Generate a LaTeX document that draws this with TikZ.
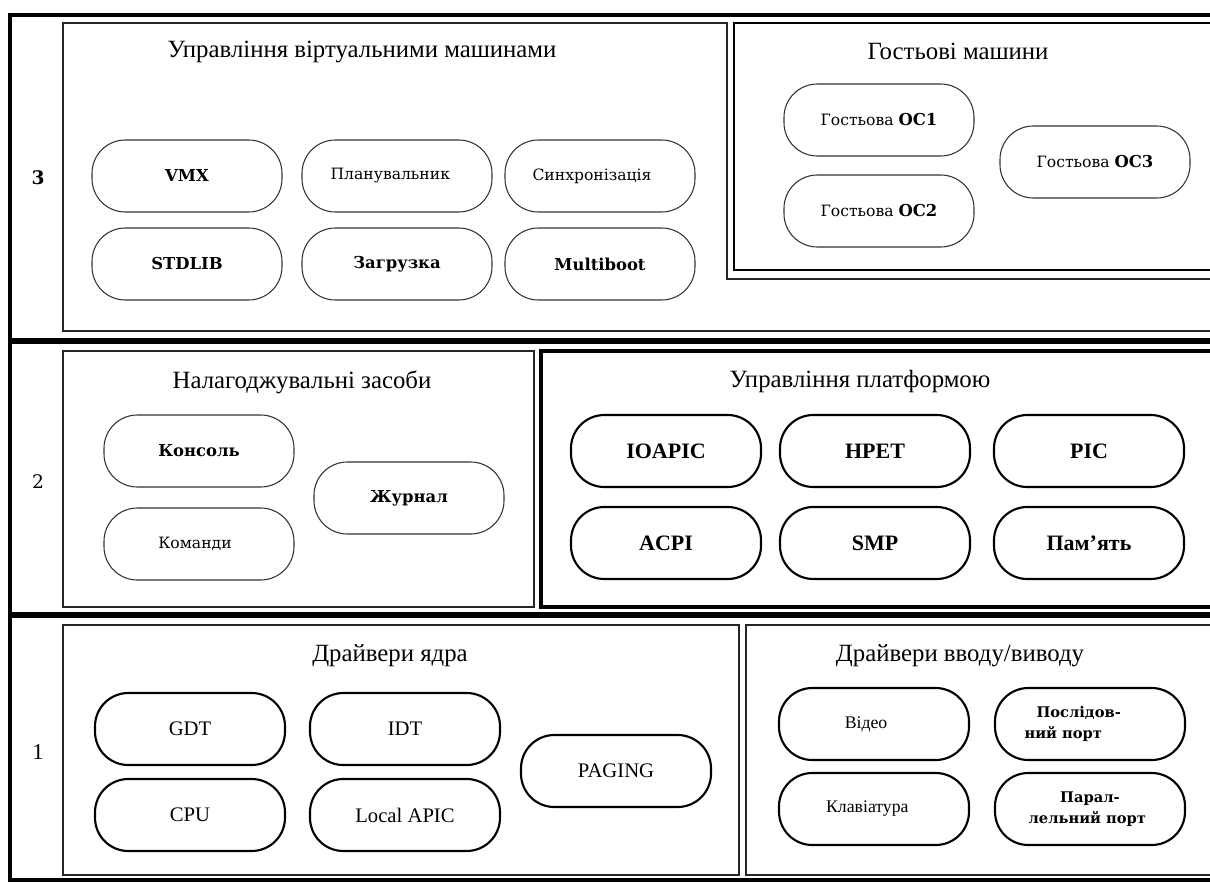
\documentclass[tikz,border=0pt]{standalone}
\usepackage{fontspec}
\setmainfont{Liberation Serif}
\newfontfamily\cent{DejaVu Serif}
\begin{document}
\begin{tikzpicture}[x=0.75pt,y=-0.75pt,
 pill/.style={draw=black!80, line width=0.8pt, rounded corners=25pt, minimum width=142.5pt, minimum height=54pt, align=center, inner sep=0pt},
 pillb/.style={pill, draw=black, line width=1.6pt},
 ttl/.style={font=\fontsize{18.6}{21}\selectfont},
 cs/.style={font=\cent\fontsize{11.7}{14}\selectfont},
 csb/.style={font=\cent\bfseries\fontsize{12.3}{14}\selectfont},
 csp/.style={font=\cent\bfseries\fontsize{11}{16}\selectfont},
 tm/.style={font=\fontsize{13.3}{16}\selectfont},
 tb/.style={font=\fontsize{15.5}{18}\selectfont},
 tbb/.style={font=\bfseries\fontsize{16.5}{18}\selectfont},
 frame/.style={line width=2.4pt},
 sep/.style={line width=4pt},
 boxthin/.style={line width=1.2pt, draw=black!85},
 boxthick/.style={line width=2.2pt}
]
\useasboundingbox (0,0) rectangle (1210,882);
% outer frame
\draw[frame] (1215,15) -- (10,15) -- (10,880) -- (1215,880);
\draw[sep] (10,341) -- (1215,341);
\draw[sep] (10,615) -- (1215,615);
% row numbers
\node[font=\cent\bfseries\fontsize{14}{16}\selectfont] (n3) at (38,178) {3};
\node[font=\cent\fontsize{14}{16}\selectfont] (n2) at (38,482) {2};
\node[font=\fontsize{17}{20}\selectfont] (n1) at (38,752) {1};

% ---------- row 3
\draw[boxthin] (1215,331) -- (63,331) -- (63,23) -- (727,23) -- (727,279) -- (1215,279);
\draw[boxthick] (1215,23) -- (734,23) -- (734,270) -- (1215,270);
\node[ttl] (t31) at (362,52) {Управління віртуальними машинами};
\node[ttl] (t32) at (958,51) {Гостьові машини};
\node[pill,csb] (vmx) at (187,176) {VMX};
\node[pill,cs] (plan) at (397,176) {Планувальник\hspace*{10pt}};
\node[pill,cs] (sync) at (600,176) {Синхронізація\hspace*{12pt}};
\node[pill,csb] (stdlib) at (187,264) {STDLIB};
\node[pill,csb] (zagr) at (397,264) {Загрузка};
\node[pill,csb] (mboot) at (600,264) {Multiboot};
\node[pill,cs] (os1) at (879,120) {Гостьова \textbf{\fontsize{12.3}{14}\selectfont ОС1}};
\node[pill,cs] (os2) at (879,211) {Гостьова \textbf{\fontsize{12.3}{14}\selectfont ОС2}};
\node[pill,cs] (os3) at (1095,162) {Гостьова \textbf{\fontsize{12.3}{14}\selectfont ОС3}};

% ---------- row 2
\draw[boxthin] (63,351) rectangle (534,607);
\draw[line width=2.8pt] (1215,351) -- (541,351) -- (541,607) -- (1215,607);
\node[ttl] (t21) at (302,382) {Налагоджувальні засоби};
\node[ttl] (t22) at (860,382) {Управління платформою};
\node[pill,csb] (kons) at (199,451) {Консоль};
\node[pill,cs] (kom) at (199,544) {Команди\hspace*{6pt}};
\node[pill,csb] (jur) at (409,498) {Журнал};
\node[pillb,tbb] (ioapic) at (666,451) {IOAPIC};
\node[pillb,tbb] (hpet) at (875,451) {HPET};
\node[pillb,tbb] (pic) at (1089,451) {PIC};
\node[pillb,tbb] (acpi) at (666,543) {ACPI};
\node[pillb,tbb] (smp) at (875,543) {SMP};
\node[pillb,tbb] (mem) at (1089,543) {Пам'ять};

% ---------- row 1
\draw[boxthin] (63,625) rectangle (739,875);
\draw[boxthin] (1215,625) -- (746,625) -- (746,875) -- (1215,875);
\node[ttl] (t11) at (390,656) {Драйвери ядра};
\node[ttl] (t12) at (960,656) {Драйвери вводу/виводу};
\node[pillb,tb] (gdt) at (190,729) {GDT};
\node[pillb,tb] (idt) at (405,729) {IDT};
\node[pillb,tb] (cpu) at (190,815) {CPU};
\node[pillb,tb] (lapic) at (405,815) {Local APIC};
\node[pillb,tb] (paging) at (616,771) {PAGING};
\node[pillb,tm] (video) at (874,724) {Відео\hspace*{12pt}};
\node[pillb,csp] (serial) at (1090,724) {\begin{tabular}{@{}l@{}}\hspace*{9pt}Послідов-\\ний порт\end{tabular}\hspace*{26pt}};
\node[pillb,tm] (kbd) at (874,809) {Клавіатура\hspace*{10pt}};
\node[pillb,csp] (par) at (1090,809) {Парал-\\лельний порт\hspace*{4pt}};
\end{tikzpicture}
\end{document}
